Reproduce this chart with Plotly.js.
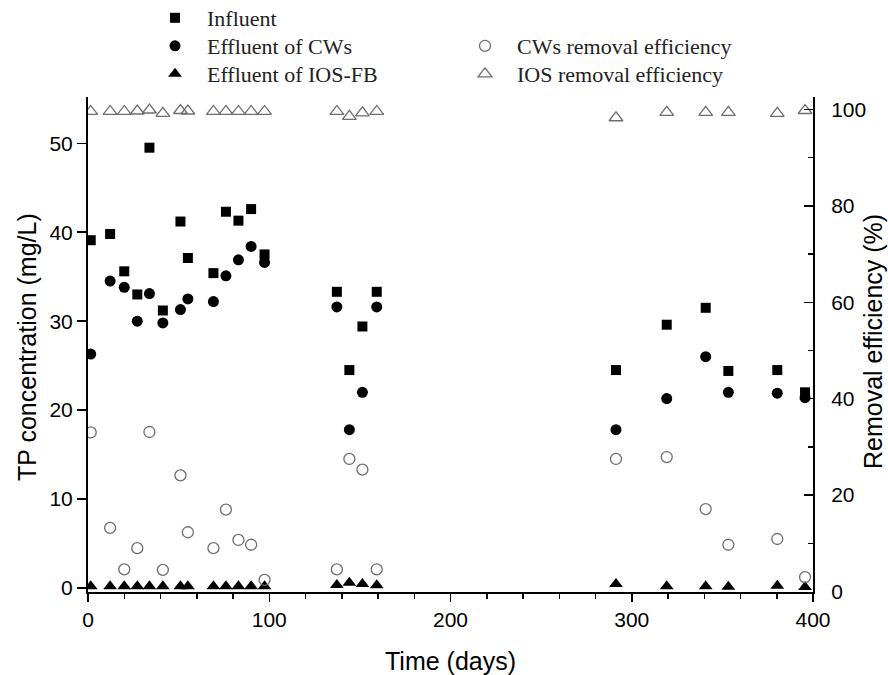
<!DOCTYPE html>
<html><head><meta charset="utf-8">
<script src="https://cdn.plot.ly/plotly-3.0.1.min.js"></script>
<style>html,body{margin:0;padding:0;background:#fff}</style>
</head><body>
<div id="chart" style="width:888px;height:675px"></div>
<script>
// Sampling days
const days = [1.5, 12.2, 20, 27.2, 33.9, 41.3, 51, 55.1, 69.2, 76.1, 83, 90, 97.4,
              137.3, 144.2, 151.4, 159.3,
              291.3, 319.3, 340.8, 353.3, 380.3, 395.6];
// TP concentration (mg/L)
const influent    = [39.1, 39.8, 35.6, 33.0, 49.5, 31.2, 41.2, 37.1, 35.4, 42.3, 41.3, 42.6, 37.5,
                     33.3, 24.5, 29.4, 33.3,
                     24.5, 29.6, 31.5, 24.4, 24.5, 22.0];
const effluentCWs = [26.3, 34.5, 33.8, 30.0, 33.1, 29.8, 31.3, 32.5, 32.2, 35.1, 36.9, 38.4, 36.6,
                     31.6, 17.8, 22.0, 31.6,
                     17.8, 21.3, 26.0, 22.0, 21.9, 21.4];
const effluentIOS = [0.2, 0.2, 0.2, 0.2, 0.2, 0.2, 0.2, 0.2, 0.2, 0.2, 0.2, 0.2, 0.2,
                     0.35, 0.6, 0.45, 0.3,
                     0.45, 0.2, 0.2, 0.15, 0.25, 0.1];
// Removal efficiency (%)
const cwsRemoval  = [33.0, 13.2, 4.6, 9.0, 33.1, 4.5, 24.1, 12.3, 9.0, 17.0, 10.7, 9.7, 2.4,
                     4.6, 27.5, 25.3, 4.6,
                     27.5, 27.9, 17.1, 9.7, 10.9, 3.0];
const iosRemoval  = [99.6, 99.6, 99.6, 99.7, 99.9, 99.2, 99.8, 99.7, 99.6, 99.6, 99.6, 99.6, 99.6,
                     99.6, 98.6, 99.3, 99.6,
                     98.3, 99.4, 99.4, 99.4, 99.2, 99.8];

const names = ['Influent', 'Effluent of CWs', 'Effluent of IOS-FB',
               'CWs removal efficiency', 'IOS removal efficiency'];
const xTitle = 'Time (days)';
const yTitle = 'TP concentration (mg/L)';
const y2Title = 'Removal efficiency (%)';

const black = '#000000', grey = '#6e6e6e';

const traces = [
  {x: days, y: influent, name: names[0], type: 'scatter', mode: 'markers', legend: 'legend',
   marker: {symbol: 'square', size: 10, color: black}},
  {x: days, y: effluentCWs, name: names[1], type: 'scatter', mode: 'markers', legend: 'legend2',
   marker: {symbol: 'circle', size: 11, color: black}},
  {x: days, y: effluentIOS, name: names[2], type: 'scatter', mode: 'markers', legend: 'legend3',
   marker: {symbol: 'triangle-up', size: 12, color: black}},
  {x: days, y: cwsRemoval, name: names[3], type: 'scatter', mode: 'markers', yaxis: 'y2', legend: 'legend4',
   marker: {symbol: 'circle-open', size: 11, color: grey, line: {color: grey, width: 1.3}}},
  {x: days, y: iosRemoval, name: names[4], type: 'scatter', mode: 'markers', yaxis: 'y2', legend: 'legend5',
   marker: {symbol: 'triangle-up-open', size: 12, color: grey, line: {color: grey, width: 1.3}}}
];

const tickFont = {family: 'Liberation Sans, Arial, sans-serif', size: 21, color: '#000'};
const titleFont = {family: 'Liberation Sans, Arial, sans-serif', size: 25, color: '#000'};
const legFont = {family: 'Liberation Serif, Times New Roman, serif', size: 22, color: '#222'};

function leg(xpx, ypx) {
  return {x: xpx / 888, y: 1 - ypx / 675, xref: 'container', yref: 'container',
          xanchor: 'left', yanchor: 'middle', bgcolor: 'rgba(0,0,0,0)', borderwidth: 0,
          font: legFont, itemwidth: 54};
}

const layout = {
  width: 888, height: 675,
  paper_bgcolor: '#fff', plot_bgcolor: '#fff',
  margin: {l: 88, r: 75, t: 97, b: 83, autoexpand: false},
  showlegend: true,
  legend: leg(143, 18),
  legend2: leg(143, 46),
  legend3: leg(143, 74),
  legend4: leg(453, 46),
  legend5: leg(453, 74),
  xaxis: {
    range: [0, 400], tick0: 0, dtick: 100, ticks: 'outside', ticklen: 8, tickwidth: 1.5,
    tickcolor: '#000', showline: true, linecolor: '#000', linewidth: 2,
    showgrid: false, zeroline: false, tickfont: tickFont, automargin: false,
    minor: {dtick: 20, ticks: 'outside', ticklen: 5, tickwidth: 1.5, tickcolor: '#000', showgrid: false},
    title: {text: xTitle, font: titleFont}
  },
  yaxis: {
    range: [-0.45, 55.2], tick0: 0, dtick: 10, ticks: 'outside', ticklen: 9, tickwidth: 1.5,
    tickcolor: '#000', showline: true, linecolor: '#000', linewidth: 2,
    showgrid: false, zeroline: false, tickfont: tickFont, automargin: false
  },
  yaxis2: {
    overlaying: 'y', side: 'right', anchor: 'x',
    range: [-0.1, 102.6], tick0: 0, dtick: 20, ticks: 'inside', ticklen: 9, tickwidth: 1.5,
    tickcolor: '#000', showline: true, linecolor: '#000', linewidth: 2,
    showgrid: false, zeroline: false, tickfont: tickFont, ticklabelstandoff: 12, automargin: false,
    minor: {dtick: 10, ticks: 'inside', ticklen: 5, tickwidth: 1.5, tickcolor: '#000', showgrid: false}
  },
  annotations: [
    {text: yTitle, xref: 'paper', yref: 'paper', x: (27 - 88) / 725, y: 0.495,
     xanchor: 'center', yanchor: 'middle', textangle: -90, showarrow: false, font: titleFont},
    {text: y2Title, xref: 'paper', yref: 'paper', x: (873 - 88) / 725, y: 0.505,
     xanchor: 'center', yanchor: 'middle', textangle: -90, showarrow: false, font: titleFont}
  ]
};

Plotly.newPlot('chart', traces, layout, {displayModeBar: false, staticPlot: true});
</script>
</body></html>
